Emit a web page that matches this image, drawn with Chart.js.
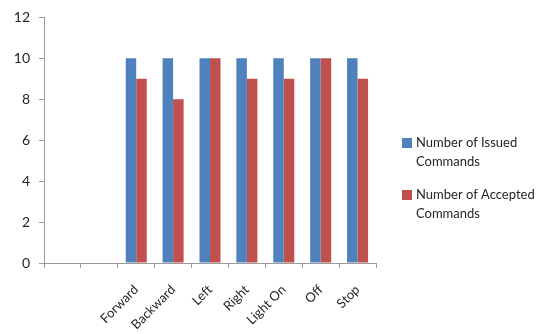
<!DOCTYPE html>
<html>
<head>
<meta charset="utf-8">
<script src="https://cdn.jsdelivr.net/npm/chart.js@4/dist/chart.umd.min.js"></script>
<style>
  html, body { margin: 0; padding: 0; background: #fff; }
  #wrap { width: 544px; height: 334px; }
</style>
</head>
<body>
<div id="wrap"><canvas id="c" width="544" height="334"></canvas></div>
<script>
// Commands sent to the robot; the first two slots are left empty
const categories = ["", "", "Forward", "Backward", "Left", "Right", "Light On", "Off", "Stop"];
const issued   = [null, null, 10, 10, 10, 10, 10, 10, 10];
const accepted = [null, null, 9, 8, 10, 9, 9, 10, 9];
const seriesNames = ["Number of Issued Commands", "Number of Accepted Commands"];
const yTicks = [0, 2, 4, 6, 8, 10, 12];

const FONT = "Lato";
const TEXT = "#262626";
const AXIS = "#9a9a9a";

// Legend on the right, with each name wrapped onto two lines
const sideLegend = {
  id: "sideLegend",
  afterDraw(chart) {
    const ctx = chart.ctx;
    ctx.save();
    ctx.font = "13px " + FONT;
    ctx.textBaseline = "middle";
    ctx.textAlign = "left";
    const maxW = 125;
    let y = 143;
    chart.data.datasets.forEach((ds) => {
      const words = ds.label.split(" ");
      const lines = [];
      let cur = "";
      words.forEach((w) => {
        const t = cur ? cur + " " + w : w;
        if (ctx.measureText(t).width > maxW && cur) { lines.push(cur); cur = w; }
        else cur = t;
      });
      if (cur) lines.push(cur);
      ctx.fillStyle = ds.backgroundColor;
      ctx.fillRect(402, y - 5, 10, 10);
      ctx.fillStyle = TEXT;
      lines.forEach((ln, i) => ctx.fillText(ln, 416, y + i * 19));
      y += lines.length * 19 + 14;
    });
    ctx.restore();
  }
};

new Chart(document.getElementById("c"), {
  type: "bar",
  data: {
    labels: categories,
    datasets: [
      { label: seriesNames[0], data: issued, backgroundColor: "#4F81BD",
        barPercentage: 1, categoryPercentage: 0.57 },
      { label: seriesNames[1], data: accepted, backgroundColor: "#C0504D",
        barPercentage: 1, categoryPercentage: 0.57 }
    ]
  },
  options: {
    responsive: false,
    animation: false,
    layout: { padding: { top: 16, right: 168, left: 0, bottom: 0 } },
    plugins: { legend: { display: false }, tooltip: { enabled: false } },
    scales: {
      x: {
        grid: { display: true, drawOnChartArea: false, drawTicks: true, tickLength: 5, color: AXIS, offset: true },
        border: { color: AXIS },
        ticks: { color: TEXT, font: { family: FONT, size: 13 }, minRotation: 45, maxRotation: 45, padding: 14, autoSkip: false },
        afterFit(s) { s.height = 71; }
      },
      y: {
        min: 0, max: 12,
        afterBuildTicks(s) { s.ticks = yTicks.map(v => ({ value: v })); },
        grid: { display: true, drawOnChartArea: false, drawTicks: true, tickLength: 5, color: AXIS },
        border: { color: AXIS },
        ticks: { color: TEXT, font: { family: FONT, size: 14 }, padding: 9 },
        afterFit(s) { s.width = 44; }
      }
    }
  },
  plugins: [sideLegend]
});
</script>
</body>
</html>
